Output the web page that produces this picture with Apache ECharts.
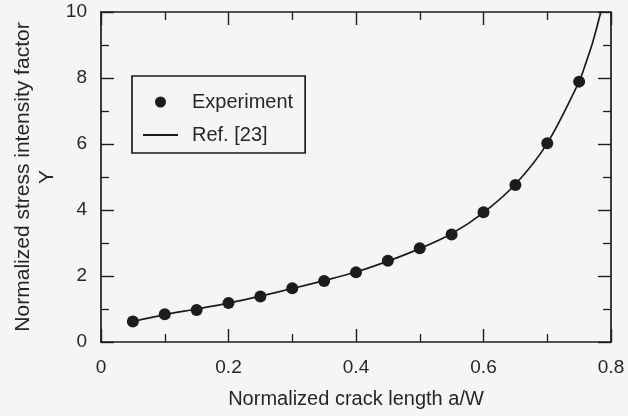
<!DOCTYPE html>
<html>
<head>
<meta charset="utf-8">
<script src="https://cdn.jsdelivr.net/npm/echarts@6/dist/echarts.min.js"></script>
<style>
html,body{margin:0;padding:0;background:#f5f5f5;}
#chart{width:628px;height:416px;}
</style>
</head>
<body>
<div id="chart"></div>
<script>
// Experimental points (a/W, Y)
const expX = [0.05, 0.10, 0.15, 0.20, 0.25, 0.30, 0.35, 0.40, 0.45, 0.50, 0.55, 0.60, 0.65, 0.70, 0.75];
const expY = [0.62, 0.84, 0.97, 1.18, 1.38, 1.63, 1.85, 2.11, 2.46, 2.84, 3.26, 3.93, 4.76, 6.02, 7.89];
// Reference curve Ref. [23]
const refX = [0.05, 0.10, 0.15, 0.20, 0.25, 0.30, 0.35, 0.40, 0.45, 0.50, 0.55, 0.60, 0.65, 0.70, 0.75, 0.76, 0.77, 0.777, 0.784, 0.79];
const refY = [0.62, 0.83, 1.00, 1.18, 1.39, 1.62, 1.86, 2.12, 2.45, 2.83, 3.28, 3.92, 4.78, 6.02, 7.89, 8.42, 9.00, 9.48, 10.0, 10.45];
// Axis ticks
const xTicks = [0, 0.2, 0.4, 0.6, 0.8];
const yTicks = [0, 2, 4, 6, 8, 10];

const FONT = 'Liberation Sans, Arial, Helvetica, sans-serif';
const INK = '#1c1c1c';
const TXT = '#262626';

const chart = echarts.init(document.getElementById('chart'), null, {renderer: 'canvas'});

const axisCommon = {
  type: 'value',
  axisLine: {show: true, onZero: false, lineStyle: {color: INK, width: 1.7}},
  axisTick: {show: true, inside: true, length: 13, lineStyle: {color: INK, width: 1.4}},
  minorTick: {show: true, splitNumber: 2, length: 8, lineStyle: {color: INK, width: 1.3}},
  splitLine: {show: false}
};

const option = {
  backgroundColor: '#f5f5f5',
  animation: false,
  grid: {left: 101, right: 17, top: 12, bottom: 74, containLabel: false, outerBoundsMode: 'none'},
  xAxis: [
    Object.assign({}, axisCommon, {
      position: 'bottom',
      min: xTicks[0], max: xTicks[xTicks.length - 1], interval: 0.2,
      name: 'Normalized crack length a/W',
      nameLocation: 'middle', nameGap: 47, nameMoveOverlap: false,
      nameTextStyle: {fontFamily: FONT, fontSize: 20, color: TXT},
      axisLabel: {show: true, margin: 16, fontFamily: FONT, fontSize: 19, color: TXT,
        formatter: v => (v === 0 ? '0' : String(Math.round(v * 10) / 10))}
    }),
    Object.assign({}, axisCommon, {
      position: 'top',
      min: xTicks[0], max: xTicks[xTicks.length - 1], interval: 0.2,
      axisLabel: {show: false}
    })
  ],
  yAxis: [
    Object.assign({}, axisCommon, {
      position: 'left',
      min: yTicks[0], max: yTicks[yTicks.length - 1], interval: 2,
      name: 'Normalized stress intensity factor\nY',
      nameLocation: 'middle', nameGap: 42, nameRotate: 90, nameMoveOverlap: false,
      nameTextStyle: {fontFamily: FONT, fontSize: 21, color: TXT, lineHeight: 24, align: 'center'},
      axisLabel: {show: true, margin: 14, fontFamily: FONT, fontSize: 19, color: TXT}
    }),
    Object.assign({}, axisCommon, {
      position: 'right',
      min: yTicks[0], max: yTicks[yTicks.length - 1], interval: 2,
      axisLabel: {show: false}
    })
  ],
  legend: {
    show: true,
    orient: 'vertical',
    left: 132, top: 76,
    padding: [16, 12, 8, 10],
    itemGap: 13,
    itemWidth: 35, itemHeight: 11,
    borderColor: INK, borderWidth: 1.7,
    backgroundColor: '#f5f5f5',
    textStyle: {fontFamily: FONT, fontSize: 20, color: TXT, padding: [0, 0, 0, 9]},
    data: [
      {name: 'Experiment', icon: 'circle', itemStyle: {color: INK, opacity: 1}},
      {name: 'Ref. [23]', itemStyle: {opacity: 0}, lineStyle: {color: INK, width: 2}}
    ]
  },
  series: [
    {
      name: 'Ref. [23]',
      type: 'line',
      xAxisIndex: 0, yAxisIndex: 0,
      data: refX.map((x, i) => [x, refY[i]]),
      symbol: 'none',
      smooth: 0.3,
      clip: true,
      lineStyle: {color: INK, width: 1.7},
      itemStyle: {color: INK},
      z: 2
    },
    {
      name: 'Experiment',
      type: 'scatter',
      xAxisIndex: 0, yAxisIndex: 0,
      data: expX.map((x, i) => [x, expY[i]]),
      symbol: 'circle',
      symbolSize: 12,
      itemStyle: {color: INK, opacity: 1},
      z: 3
    }
  ]
};
chart.setOption(option);
</script>
</body>
</html>
